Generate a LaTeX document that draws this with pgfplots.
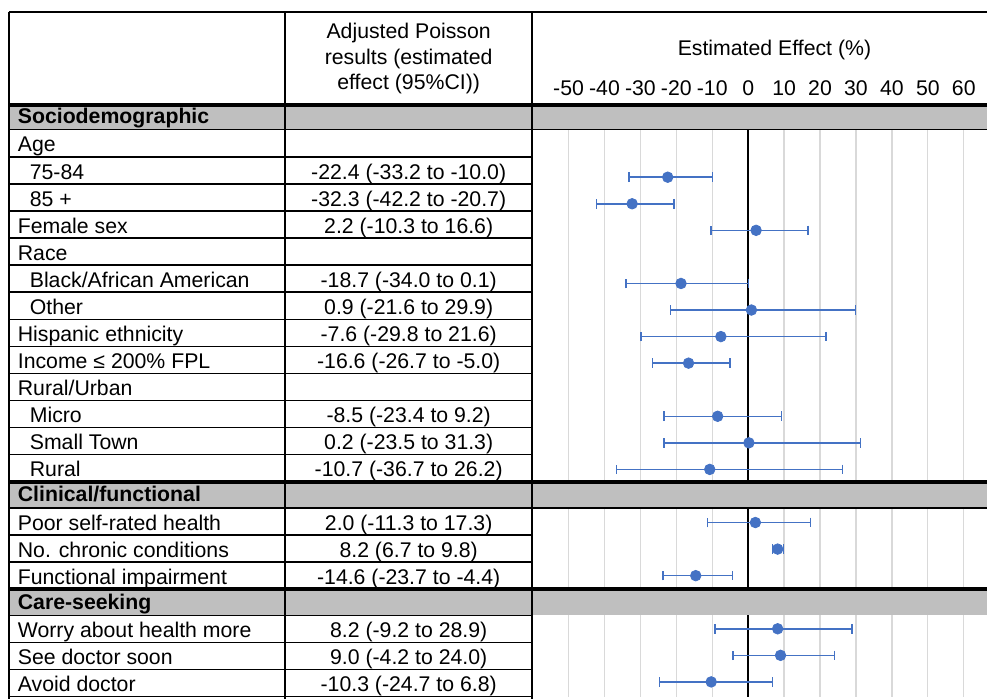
\documentclass[border=0pt]{standalone}
\usepackage{pgfplots}
\pgfplotsset{compat=1.18}
\usepackage{pgfplotstable}
\usepackage{fontspec}
\setmainfont{Liberation Sans}
\definecolor{ptblue}{HTML}{4472C4}
\definecolor{bandgray}{HTML}{BFBFBF}
\definecolor{gridgray}{HTML}{D9D9D9}

\pgfplotstableread{
row est lo hi
3  -22.4 -33.2 -10.0
4  -32.3 -42.2 -20.7
5  2.2 -10.3 16.6
7  -18.7 -34.0 0.1
8  0.9 -21.6 29.9
9  -7.6 -29.8 21.6
10 -16.6 -26.7 -5.0
12 -8.5 -23.4 9.2
13 0.2 -23.5 31.3
14 -10.7 -36.7 26.2
16 2.0 -11.3 17.3
17 8.2 6.7 9.8
18 -14.6 -23.7 -4.4
20 8.2 -9.2 28.9
21 9.0 -4.2 24.0
22 -10.3 -24.7 6.8
}\effects

\newcommand{\tf}{\fontsize{10.65}{12.5}\selectfont}

\begin{document}
\begin{tikzpicture}
\begin{scope}[x=0.5pt,y=-0.5pt]
\useasboundingbox (0,0) rectangle (989,695);
\end{scope}
\begin{axis}[
  at={(266.65pt,-52.65pt)}, anchor=north west,
  scale only axis, width=227.85pt, height=296.35pt,
  xmin=-60.11, xmax=66.47,
  ymin=0.285, ymax=22.553, y dir=reverse,
  axis line style={draw=none},
  major tick length=0pt,
  ytick=\empty,
  xtick={-50,-40,...,60},
  xmajorgrids,
  grid style={gridgray, line width=0.65pt},
  xticklabel pos=upper,
  xticklabel style={font=\tf, anchor=base, yshift=4.8pt, inner sep=0pt},
  /pgf/number format/assume math mode=true,
]
\addplot[black, line width=0.9pt] coordinates {(0,0.285) (0,22.553)};
\addplot[only marks, mark=*, mark size=2.65pt, color=ptblue,
  error bars/.cd, x dir=both, x explicit,
  error mark options={ptblue, line width=0.75pt, mark size=2.4pt, rotate=90},
  error bar style={line width=0.75pt, ptblue}]
  table[x=est, y=row, x error plus expr=\thisrow{hi}-\thisrow{est}, x error minus expr=\thisrow{est}-\thisrow{lo}] {\effects};
\end{axis}
\begin{scope}[x=0.5pt,y=-0.5pt, every node/.style={font=\tf, inner sep=0pt}]
% gray bands
\fill[bandgray] (9,105) rectangle (989,130);
\fill[bandgray] (9,482.7) rectangle (989,509);
\fill[bandgray] (9,590) rectangle (989,616.7);
% lines
\draw[line width=0.65pt] (9,12) -- (989,12);
\foreach \y in {105.3,482.7,590} \draw[line width=2pt] (9,\y) -- (989,\y);
\foreach \y in {130,509} \draw[line width=0.75pt] (9,\y) -- (989,\y);
\foreach \y in {157.1,184.3,211.4,238.5,265.7,292.8,319.9,347.0,374.2,401.3,428.4,455.6,536,563,616.7,643.8,670.9,698}
  \draw[line width=0.75pt] (9,\y) -- (533.3,\y);
\foreach \x in {9,286,533.3} \draw[line width=1pt] (\x,12) -- (\x,700);
% header
\node[anchor=base] at (409.5,39) {Adjusted Poisson};
\node[anchor=base] at (409.5,64.5) {results (estimated};
\node[anchor=base] at (409.5,90) {effect (95\%CI))};
\node[anchor=base] at (776,56) {Estimated Effect (\%)};
% column 1
\node[anchor=base west] at (17.5,124) {\bfseries Sociodemographic};
\node[anchor=base west] at (17.5,152.3) {Age};
\node[anchor=base west] at (29.5,179.5) {75-84};
\node[anchor=base west] at (29.5,206.6) {85 +};
\node[anchor=base west] at (17.5,233.7) {Female sex};
\node[anchor=base west] at (17.5,260.9) {Race};
\node[anchor=base west] at (29.5,288) {Black/African American};
\node[anchor=base west] at (29.5,315.1) {Other};
\node[anchor=base west] at (17.5,342.2) {Hispanic ethnicity};
\node[anchor=base west] at (17.5,369.4) {Income ≤ 200\% FPL};
\node[anchor=base west] at (17.5,396.5) {Rural/Urban};
\node[anchor=base west] at (29.5,423.6) {Micro};
\node[anchor=base west] at (29.5,450.8) {Small Town};
\node[anchor=base west] at (29.5,477.9) {Rural};
\node[anchor=base west] at (17.5,503) {\bfseries Clinical/functional};
\node[anchor=base west] at (17.5,531.2) {Poor self-rated health};
\node[anchor=base west] at (17.5,558.2) {No. chronic conditions};
\node[anchor=base west] at (17.5,585.2) {Functional impairment};
\node[anchor=base west] at (17.5,611) {\bfseries Care-seeking};
\node[anchor=base west] at (17.5,639) {Worry about health more};
\node[anchor=base west] at (17.5,666.1) {See doctor soon};
\node[anchor=base west] at (17.5,693.2) {Avoid doctor};
% column 2
\node[anchor=base] at (409.5,179.5) {-22.4 (-33.2 to -10.0)};
\node[anchor=base] at (409.5,206.6) {-32.3 (-42.2 to -20.7)};
\node[anchor=base] at (409.5,233.7) {2.2 (-10.3 to 16.6)};
\node[anchor=base] at (409.5,288) {-18.7 (-34.0 to 0.1)};
\node[anchor=base] at (409.5,315.1) {0.9 (-21.6 to 29.9)};
\node[anchor=base] at (409.5,342.2) {-7.6 (-29.8 to 21.6)};
\node[anchor=base] at (409.5,369.4) {-16.6 (-26.7 to -5.0)};
\node[anchor=base] at (409.5,423.6) {-8.5 (-23.4 to 9.2)};
\node[anchor=base] at (409.5,450.8) {0.2 (-23.5 to 31.3)};
\node[anchor=base] at (409.5,477.9) {-10.7 (-36.7 to 26.2)};
\node[anchor=base] at (409.5,531.2) {2.0 (-11.3 to 17.3)};
\node[anchor=base] at (409.5,558.2) {8.2 (6.7 to 9.8)};
\node[anchor=base] at (409.5,585.2) {-14.6 (-23.7 to -4.4)};
\node[anchor=base] at (409.5,639) {8.2 (-9.2 to 28.9)};
\node[anchor=base] at (409.5,666.1) {9.0 (-4.2 to 24.0)};
\node[anchor=base] at (409.5,693.2) {-10.3 (-24.7 to 6.8)};
\end{scope}
\end{tikzpicture}
\end{document}
